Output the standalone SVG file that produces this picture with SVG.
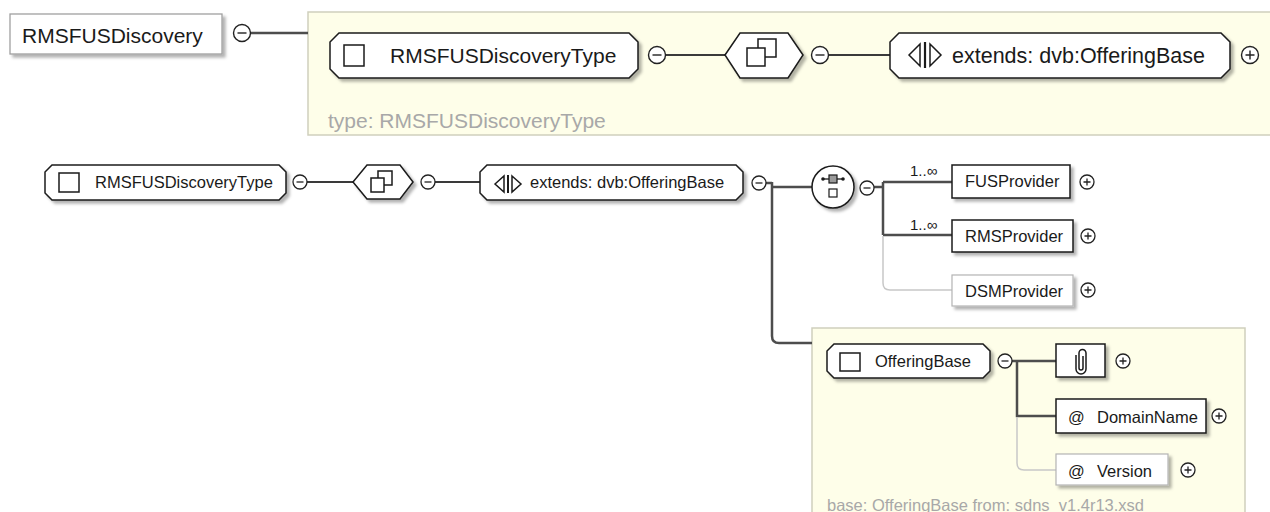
<svg xmlns="http://www.w3.org/2000/svg" width="1270" height="512" viewBox="0 0 1270 512">
<defs>
<filter id="sh" x="-10%" y="-10%" width="130%" height="150%">
<feDropShadow dx="3" dy="3" stdDeviation="1.5" flood-color="#000" flood-opacity="0.3"/>
</filter>
<g id="mL"><circle r="8.5" fill="#fff" stroke="#222" stroke-width="1.4"/><path d="M-4.5,0H4.5" stroke="#222" stroke-width="1.4"/></g>
<g id="pL"><circle r="8.5" fill="#fff" stroke="#222" stroke-width="1.4"/><path d="M-4.5,0H4.5M0,-4.5V4.5" stroke="#222" stroke-width="1.4"/></g>
<g id="mS"><circle r="7" fill="#fff" stroke="#222" stroke-width="1.3"/><path d="M-3.5,0H3.5" stroke="#222" stroke-width="1.3"/></g>
<g id="pS"><circle r="7" fill="#fff" stroke="#222" stroke-width="1.3"/><path d="M-3.5,0H3.5M0,-3.5V3.5" stroke="#222" stroke-width="1.3"/></g>
</defs>
<style>
text{font-family:"Liberation Sans",Arial,sans-serif;fill:#1a1a1a}
.t21{font-size:21px}
.t16{font-size:16.5px}
.t14{font-size:15px}
.grey{fill:#a8a8a8}
.box{fill:#fff;stroke:#1a1a1a;stroke-width:1.5;filter:url(#sh)}
.gbox{fill:#fff;stroke:#a0a0a0;stroke-width:1.3;filter:url(#sh)}
.obox{fill:#fff;stroke:#b4b4b4;stroke-width:1.2;filter:url(#sh)}
.panel{fill:#fefee9;stroke:#cfcfbd;stroke-width:1.5}
.conn{fill:none;stroke:#4d4d4d;stroke-width:2.5}
.thin{fill:none;stroke:#3a3a3a;stroke-width:2}
.opt{fill:none;stroke:#c8c8c8;stroke-width:1.5}
.ico{fill:#fff;stroke:#1a1a1a;stroke-width:1.5}
.icol{fill:none;stroke:#1a1a1a;stroke-width:1.5}
</style>

<g id="panels">
<rect class="panel" x="308" y="12" width="975" height="123"/>
<rect class="panel" x="812" y="328" width="433" height="200"/>
</g>

<g id="connectors">
<path class="conn" d="M250,33H308"/>
<path class="thin" d="M665,55H725"/>
<path class="thin" d="M828,55H890"/>
<path class="thin" d="M307,182H353"/>
<path class="thin" d="M435,182H480"/>
<path class="conn" d="M766,183H772M772,182V336Q772,343 779,343H812M772,187H812"/>
<path class="conn" d="M874,187H883M883,182V235M883,182H952M883,235H952"/>
<path class="opt" d="M883,236V283Q883,290 890,290H952"/>
<path class="conn" d="M1012,361H1056M1017,361V416H1056"/>
<path class="opt" d="M1017,417V463Q1017,470 1024,470H1056"/>
</g>

<g id="node-RMSFUSDiscovery">
<rect class="gbox" x="10" y="14" width="212" height="40"/>
<text class="t21" x="22" y="43">RMSFUSDiscovery</text>
<use href="#mL" x="242" y="33"/>
</g>

<g id="node-type-top">
<path class="box" d="M339,33H629L638,42V69L629,78H339L330,69V42Z"/>
<rect class="ico" x="344" y="45" width="20" height="21"/>
<text class="t21" x="390" y="63">RMSFUSDiscoveryType</text>
<use href="#mL" x="657" y="55"/>
</g>

<g id="node-complex-top">
<path class="box" d="M725,55L740,33H788L803,55L788,78H740Z"/>
<rect class="ico" x="758" y="39" width="18" height="18"/>
<rect class="ico" x="747" y="48" width="18" height="18"/>
<use href="#mL" x="820" y="55"/>
</g>

<g id="node-extends-top">
<path class="box" d="M899,33H1221L1230,42V69L1221,78H899L890,69V42Z"/>
<path class="icol" d="M909,55L920,44V66ZM930,44L941,55L930,66Z"/>
<path d="M925,42V68" stroke="#1a1a1a" stroke-width="2.2"/>
<text class="t21" x="952" y="63" style="font-size:21.5px">extends: dvb:OfferingBase</text>
<use href="#pL" x="1250" y="55"/>
</g>

<text id="label-type" class="t21 grey" x="328" y="128">type: RMSFUSDiscoveryType</text>

<g id="node-type-bottom">
<path class="box" d="M52,165H279L286,172V193L279,200H52L45,193V172Z"/>
<rect class="ico" x="59" y="173" width="20" height="19"/>
<text class="t16" x="95" y="188">RMSFUSDiscoveryType</text>
<use href="#mS" x="300" y="182"/>
</g>

<g id="node-complex-bottom">
<path class="box" d="M353,182L367,165H400L413,182L400,199H367Z"/>
<rect class="ico" x="378" y="171" width="14" height="14"/>
<rect class="ico" x="371" y="178" width="13" height="14"/>
<use href="#mS" x="428" y="182"/>
</g>

<g id="node-extends-bottom">
<path class="box" d="M487,165H736L743,172V193L736,200H487L480,193V172Z"/>
<path class="icol" d="M495,184L504,176V192ZM512,176L521,184L512,192Z"/>
<path d="M508,175V193" stroke="#1a1a1a" stroke-width="2"/>
<text class="t16" x="530" y="188">extends: dvb:OfferingBase</text>
<use href="#mS" x="759" y="183"/>
</g>

<g id="node-choice">
<circle class="box" cx="833" cy="187" r="21"/>
<path d="M823,179H843" stroke="#1a1a1a" stroke-width="1.3"/>
<circle cx="823" cy="179" r="1.8" fill="#1a1a1a"/>
<circle cx="843" cy="179" r="1.8" fill="#1a1a1a"/>
<rect x="829" y="175" width="8" height="8" fill="#9a9a9a" stroke="#1a1a1a" stroke-width="1.2"/>
<rect x="829" y="189" width="8" height="8" fill="#fff" stroke="#1a1a1a" stroke-width="1.2"/>
<use href="#mS" x="867" y="188"/>
</g>

<g id="node-FUSProvider">
<text class="t14" x="910" y="176">1..∞</text>
<rect class="box" x="952" y="165" width="118" height="33"/>
<text class="t16" x="965" y="187">FUSProvider</text>
<use href="#pS" x="1087" y="182"/>
</g>

<g id="node-RMSProvider">
<text class="t14" x="910" y="230">1..∞</text>
<rect class="box" x="952" y="220" width="121" height="32"/>
<text class="t16" x="965" y="242">RMSProvider</text>
<use href="#pS" x="1088" y="236"/>
</g>

<g id="node-DSMProvider">
<rect class="obox" x="952" y="275" width="121" height="31"/>
<text class="t16" x="965" y="297">DSMProvider</text>
<use href="#pS" x="1088" y="290"/>
</g>

<g id="node-OfferingBase">
<path class="box" d="M834,344H983L990,351V371L983,378H834L827,371V351Z"/>
<rect class="ico" x="840" y="353" width="20" height="18"/>
<text class="t16" x="875" y="367">OfferingBase</text>
<use href="#mS" x="1005" y="361"/>
</g>

<g id="node-any">
<rect class="box" x="1056" y="344" width="49" height="33"/>
<path class="icol" stroke-width="1.4" d="M1083,356V368A2,2 0 0 1 1079,368V353A3.5,3.5 0 0 1 1086,353V369A5,5 0 0 1 1076,369V355"/>
<use href="#pS" x="1123" y="361"/>
</g>

<g id="node-DomainName">
<rect class="box" x="1056" y="399" width="150" height="34"/>
<text class="t16" x="1068" y="423">@</text>
<text class="t16" x="1097" y="423">DomainName</text>
<use href="#pS" x="1219" y="416"/>
</g>

<g id="node-Version">
<rect class="obox" x="1056" y="454" width="112" height="31"/>
<text class="t16" x="1068" y="477">@</text>
<text class="t16" x="1097" y="477">Version</text>
<use href="#pS" x="1188" y="470"/>
</g>

<text id="label-base" class="t16 grey" x="827" y="511">base: OfferingBase from: sdns_v1.4r13.xsd</text>
</svg>
